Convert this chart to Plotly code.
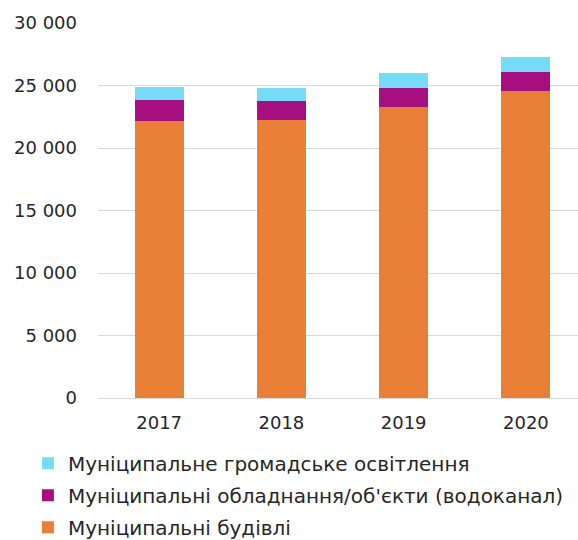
import plotly.graph_objects as go

# Annual consumption by municipal sector, stacked
years = ["2017", "2018", "2019", "2020"]
buildings = [22160, 22260, 23260, 24540]
water_utility = [1700, 1520, 1560, 1540]
street_lighting = [1040, 1040, 1160, 1180]

series_names = [
    "Муніципальні будівлі",
    "Муніципальні обладнання/об'єкти (водоканал)",
    "Муніципальне громадське освітлення",
]
series_colors = ["#E97E37", "#A50F80", "#76DBF5"]
series_values = [buildings, water_utility, street_lighting]
legend_ranks = [3, 2, 1]

y_ticks = [0, 5000, 10000, 15000, 20000, 25000, 30000]

fig = go.Figure()
for i, (name, vals, color) in enumerate(zip(series_names, series_values, series_colors)):
    fig.add_trace(go.Bar(
        x=years, y=vals, name=name, legendgroup=f"g{i}", legendrank=legend_ranks[i],
        marker=dict(color=color, line=dict(width=0)),
        width=0.4,
    ))

font_family = "DejaVu Sans, Liberation Sans, sans-serif"

fig.update_layout(
    barmode="stack",
    width=578, height=540,
    margin=dict(l=98, r=0, t=23, b=142, autoexpand=False),
    paper_bgcolor="white", plot_bgcolor="white",
    separators=", ",
    font=dict(family=font_family, size=18, color="#262626"),
    showlegend=True,
    legend=dict(
        orientation="v", traceorder="grouped", tracegroupgap=3,
        x=-0.146, xanchor="left", y=-0.122, yanchor="top",
        font=dict(size=20, color="#262626"),
        bgcolor="rgba(0,0,0,0)",
    ),
    xaxis=dict(
        type="category", range=[-0.5, 3.426],
        showgrid=False, showline=True, linecolor="#D9D9D9", linewidth=1,
        ticks="", tickfont=dict(size=18),
        ticklabelstandoff=8,
    ),
    yaxis=dict(
        range=[0, 30000], tickvals=y_ticks, tickformat=",d",
        showgrid=True, gridcolor="#D9D9D9", gridwidth=1,
        zeroline=False, showline=False, ticks="",
        tickfont=dict(size=18), ticklabelstandoff=20,
    ),
)

fig.write_html("out.html")
